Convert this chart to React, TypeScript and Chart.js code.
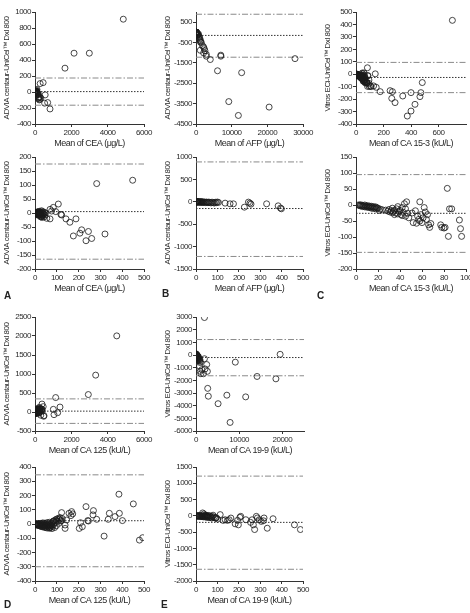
import React, { useEffect, useRef } from 'react';
import { Chart, registerables } from 'chart.js';
Chart.register(...registerables);

type P = [number, number];

// ---------- DATA ----------
const ceaPoints: P[] = [
  [4860, 910], [2150, 485], [2990, 485], [1650, 298], [826, -212], [697, -132], [530, -140], [560, -36],
  [283, 105], [448, 117], [107, 32], [84, 20], [69, 13], [76, 7], [95, 5], [119, -5], [122, -7], [142, -21],
  [160, -33], [188, -21], [176, -82], [206, -72], [214, -60], [245, -66], [234, -99], [260, -91], [321, -75],
  [54, -19], [69, -21], [31, -12],
  [1, -1], [2, 0], [3, -1], [4, 1], [5, -2], [5, 2], [6, 0], [7, -3], [8, 2], [8, -5], [9, -1], [10, -4], [10, 3],
  [11, 1], [12, -2], [12, 4], [13, 3], [14, -5], [15, 0], [15, -8], [16, -3], [17, 2], [18, -6], [19, -1], [20, -4],
  [20, 6], [21, 4], [22, -8], [23, -2], [24, 1], [25, -10], [26, -5], [26, -14], [27, 3], [28, -3], [29, -12],
  [30, 8], [32, -6], [33, -16], [34, -1], [35, 5], [36, -9], [38, 2], [40, -4], [42, -14], [44, 2], [45, -7], [48, 0],
];
const ceaLoA = [175, 5, -165]; // upper, mean, lower

const afpPoints: P[] = [
  [1, 0], [2, -2], [3, 3], [4, -1], [5, -4], [6, 1], [7, -3], [8, 2], [9, -6], [10, 0], [12, -2], [14, -8], [16, 1],
  [18, -5], [20, -10], [22, 2], [24, -3], [26, -12], [28, -1], [30, -6], [33, -15], [36, -2], [40, -9], [44, -18],
  [48, -4], [52, -12], [56, -20], [60, -6], [65, -15], [70, -25], [75, -8], [80, -18], [85, -28], [90, -10], [95, -20],
  [100, -5], [105, -15], [136, -30], [159, -45], [175, -45], [245, -7], [257, -52], [252, -30], [330, -45], [384, -90],
  [399, -156], [395, -140], [226, -120],
  [600, -120], [700, -80], [800, -200], [900, -250], [1000, -360], [1100, -300], [1200, -474], [1300, -420],
  [1500, -500], [1800, -650], [2135, -718], [2320, -800], [1200, -880], [2135, -1010], [2500, -900], [2880, -1075],
  [2880, -1170], [4000, -1334], [6960, -1120], [6960, -1170], [6035, -1886], [12800, -1980], [9190, -3400],
  [11880, -4080], [20500, -3670], [27760, -1290],
];
const afpLoA = [890, -150, -1220];

const ca153Points: P[] = [
  [2, 0], [3, -1], [4, 1], [4, -3], [5, -2], [6, -1], [6, -5], [7, -3], [8, 0], [8, -6], [9, -4], [10, -2], [10, -7],
  [11, -5], [12, -3], [12, -8], [13, -6], [14, -4], [14, -10], [15, -7], [16, -5], [16, -11], [17, -8], [18, -6],
  [18, -12], [19, -9], [20, -10], [21, -17], [22, -13], [24, -15],
  [27, -16], [29, -19], [30, -14], [31, -22], [32, -18], [33, -24], [33, -10], [34, -20], [35, -16], [35, -30],
  [36, -25], [37, -12], [38, -28], [38, -5], [39, -20], [40, -17], [41, -30], [42, -8], [42, -33], [43, -23], [44, 4],
  [45, -35], [45, -12], [46, 10], [47, -26], [48, -40],
  [51, -25], [52, -55], [54, -18], [55, -57], [56, -35], [57, -45], [58, 10], [58, -50], [59, -30], [60, -55],
  [61, -40], [62, -8], [63, -22], [64, -45], [65, -30], [66, -62], [67, -70], [68, -58],
  [77, -62], [78, -70], [80, -72], [81, -70], [83, 52], [84, -98], [85, -12], [87, -12], [94, -47], [95, -74], [96, -98],
  [105, -95], [110, -100], [140, 3], [128, -94], [147, -105], [176, -140], [248, -132], [265, -140], [260, -194],
  [284, -228], [340, -175], [400, -148], [373, -336], [400, -296], [429, -242], [465, -180], [472, -148], [482, -67],
  [701, 433],
];
const ca153LoA = [95, -26, -148];

const ca125Points: P[] = [
  [4500, 2003], [3340, 970], [2935, 459], [1138, 380], [1376, 130], [1010, 70], [1248, -18], [1046, -70],
  [385, 209], [451, 141], [341, 75], [387, 75], [367, 52], [401, 24], [336, 33], [317, -85], [479, -113], [494, -96],
  [268, 94], [266, 64], [283, 33], [242, 24], [234, 122], [245, 21], [203, -31], [217, -19], [209, 9],
  [122, 80], [168, 87], [173, 71], [165, 59], [156, 75], [145, 28], [138, -7], [138, -31], [122, 24], [112, 33],
  [99, 24], [84, 21], [76, -7], [69, -26],
  [2, -2], [4, 0], [5, -5], [6, 2], [8, -3], [10, -8], [12, 1], [14, -4], [15, -10], [16, 3], [18, -6], [20, -12],
  [22, 0], [24, -8], [25, -15], [26, 4], [28, -10], [30, -18], [32, 2], [34, -6], [35, -20], [36, 8], [38, -12],
  [40, -2], [42, -22], [44, 5], [45, -14], [46, -8], [48, -25], [50, 2], [52, -16], [54, -6], [55, -28], [56, 10],
  [58, -12], [60, -20], [62, 0], [64, -8], [65, -30], [66, 12], [68, -15], [70, -4], [72, -22], [74, 6], [76, -10],
  [78, -32], [80, -18], [82, 15], [85, -5], [88, 22], [90, -25], [92, 10], [95, 30], [98, -12], [100, 35], [105, 18],
  [108, 40], [110, 5], [115, 45], [118, 22], [125, 38],
];
const ca125LoA = [345, 23, -300];

const ca199Points: P[] = [
  [1955, 2957], [1955, -296], [2480, -753], [2630, -1290], [2105, -1100], [1353, -1156], [977, -1290], [827, -887],
  [1128, -1478], [1729, -1478], [977, -510], [2707, -2634], [2857, -3253], [5113, -3844], [7143, -3172],
  [7895, -5323], [9098, -565], [11500, -3306], [14135, -1694], [18496, -1882], [19474, 54],
  [600, -150], [700, -300], [800, -420], [900, -350], [1000, -600],
  [1, 0], [3, -5], [5, 2], [7, -8], [9, 0], [11, -12], [13, 5], [15, -3], [17, -15], [19, 8], [21, -6], [23, -20],
  [25, 3], [27, -10], [29, -25], [31, 90], [33, -5], [35, -30], [37, 60], [39, 15], [41, -12], [43, -35], [45, 20],
  [47, -8], [49, -40], [51, 5], [53, -18], [55, -45], [57, 12], [59, -25], [62, -50], [65, 0], [68, -30], [72, -60],
  [74, -67], [76, -15], [80, 20], [85, -40], [90, -70], [93, -67], [95, -55], [101, -98], [113, 38], [127, -140],
  [136, -119], [147, -140], [155, -119], [163, -67], [183, -245], [194, -140], [198, -276], [205, -46], [209, -15],
  [233, -119], [255, -200], [262, -120], [268, -275], [274, -420], [282, -15], [287, -65], [295, -120], [305, -170],
  [315, -150], [318, -65], [333, -380], [360, -88], [460, -275], [488, -420],
];
const ca199LoA = [1220, -200, -1640];

// axis ranges and tick labels
const fullCeaX = [0, 2000, 4000, 6000];
const fullCeaY = [-400, -200, 0, 200, 400, 600, 800, 1000];
const fullAfpX = [0, 10000, 20000, 30000];
const fullAfpY = [-4500, -3500, -2500, -1500, -500, 500];
const fullCa153X = [0, 200, 400, 600];
const fullCa153Y = [-400, -300, -200, -100, 0, 100, 200, 300, 400, 500];
const zoomCeaX = [0, 100, 200, 300, 400, 500];
const zoomCeaY = [-200, -150, -100, -50, 0, 50, 100, 150, 200];
const zoomAfpX = [0, 100, 200, 300, 400, 500];
const zoomAfpY = [-1500, -1000, -500, 0, 500, 1000];
const zoomCa153X = [0, 20, 40, 60, 80, 100];
const zoomCa153Y = [-200, -150, -100, -50, 0, 50, 100, 150];
const fullCa125X = [0, 2000, 4000, 6000];
const fullCa125Y = [-500, 0, 500, 1000, 1500, 2000, 2500];
const fullCa199X = [0, 10000, 20000];
const fullCa199Y = [-6000, -5000, -4000, -3000, -2000, -1000, 0, 1000, 2000, 3000];
const zoomCa125X = [0, 100, 200, 300, 400, 500];
const zoomCa125Y = [-400, -300, -200, -100, 0, 100, 200, 300, 400];
const zoomCa199X = [0, 100, 200, 300, 400, 500];
const zoomCa199Y = [-2000, -1500, -1000, -500, 0, 500, 1000, 1500];

const ADVIA = 'ADVIA centaur-UniCel\u2122 DxI 800';
const VITROS = 'Vitros ECi-UniCel\u2122 DxI 800';

interface Spec {
  pts: P[]; loa: number[]; xMax: number; yMin: number; yMax: number; xTicks: number[]; yTicks: number[];
  xTitle: string; yTitle: string; axL: number; axT: number; w: number; h: number;
}

const panels: Spec[] = [
  { pts: ceaPoints, loa: ceaLoA, xMax: 6000, yMin: -400, yMax: 1000, xTicks: fullCeaX, yTicks: fullCeaY, xTitle: 'Mean of CEA (\u03bcg/L)', yTitle: ADVIA, axL: 35, axT: 12, w: 109, h: 112 },
  { pts: afpPoints, loa: afpLoA, xMax: 30000, yMin: -4500, yMax: 1000, xTicks: fullAfpX, yTicks: fullAfpY, xTitle: 'Mean of AFP (\u03bcg/L)', yTitle: ADVIA, axL: 196, axT: 12, w: 107, h: 112 },
  { pts: ca153Points, loa: ca153LoA, xMax: 800, yMin: -400, yMax: 500, xTicks: fullCa153X, yTicks: fullCa153Y, xTitle: 'Mean of CA 15-3 (kU/L)', yTitle: VITROS, axL: 356, axT: 12, w: 110, h: 112 },
  { pts: ceaPoints, loa: ceaLoA, xMax: 500, yMin: -200, yMax: 200, xTicks: zoomCeaX, yTicks: zoomCeaY, xTitle: 'Mean of CEA (\u03bcg/L)', yTitle: ADVIA, axL: 35, axT: 157, w: 109, h: 112 },
  { pts: afpPoints, loa: afpLoA, xMax: 500, yMin: -1500, yMax: 1000, xTicks: zoomAfpX, yTicks: zoomAfpY, xTitle: 'Mean of AFP (\u03bcg/L)', yTitle: ADVIA, axL: 196, axT: 157, w: 107, h: 112 },
  { pts: ca153Points, loa: ca153LoA, xMax: 100, yMin: -200, yMax: 150, xTicks: zoomCa153X, yTicks: zoomCa153Y, xTitle: 'Mean of CA 15-3 (kU/L)', yTitle: VITROS, axL: 356, axT: 157, w: 110, h: 112 },
  { pts: ca125Points, loa: ca125LoA, xMax: 6000, yMin: -500, yMax: 2500, xTicks: fullCa125X, yTicks: fullCa125Y, xTitle: 'Mean of CA 125 (kU/L)', yTitle: ADVIA, axL: 35, axT: 317, w: 109, h: 114 },
  { pts: ca199Points, loa: ca199LoA, xMax: 25000, yMin: -6000, yMax: 3000, xTicks: fullCa199X, yTicks: fullCa199Y, xTitle: 'Mean of CA 19-9 (kU/L)', yTitle: VITROS, axL: 196, axT: 317, w: 108, h: 114 },
  { pts: ca125Points, loa: ca125LoA, xMax: 500, yMin: -400, yMax: 400, xTicks: zoomCa125X, yTicks: zoomCa125Y, xTitle: 'Mean of CA 125 (kU/L)', yTitle: ADVIA, axL: 35, axT: 467, w: 109, h: 114 },
  { pts: ca199Points, loa: ca199LoA, xMax: 500, yMin: -2000, yMax: 1500, xTicks: zoomCa199X, yTicks: zoomCa199Y, xTitle: 'Mean of CA 19-9 (kU/L)', yTitle: VITROS, axL: 196, axT: 467, w: 107, h: 114 },
];

const letters = [
  { t: 'A', x: 4, y: 290 }, { t: 'B', x: 162, y: 288 }, { t: 'C', x: 317, y: 290 },
  { t: 'D', x: 4, y: 599 }, { t: 'E', x: 161, y: 599 },
];

const FONT = "'Liberation Sans', Arial, sans-serif";
const TXT = '#2a2a2a';
const YW = 35, PT = 8, XH = 26, PR = 16;

const narrowText = {
  id: 'narrowText',
  beforeDraw: (c: any) => { c.ctx.letterSpacing = '-0.5px'; },
};

function Panel({ s }: { s: Spec }) {
  const ref = useRef<HTMLCanvasElement>(null);
  const W = YW + s.w + PR;
  const H = PT + s.h + XH;
  useEffect(() => {
    const line = (v: number, color: string, dash: number[]) => ({
      data: [{ x: 0, y: v }, { x: s.xMax, y: v }],
      showLine: true, pointRadius: 0, borderColor: color, borderWidth: 1, borderDash: dash, fill: false, order: 1,
    });
    const tickFont = { family: FONT, size: 8 };
    const chart = new Chart(ref.current as HTMLCanvasElement, {
      type: 'scatter',
      data: {
        datasets: [
          {
            data: s.pts.map(([x, y]) => ({ x, y })),
            pointRadius: 3, pointBorderWidth: 0.8, pointBorderColor: '#1a1a1a',
            pointBackgroundColor: 'rgba(0,0,0,0)', pointHoverRadius: 3, order: 0,
          } as any,
          line(s.loa[0], '#8a8a8a', [6, 2, 1.5, 2]) as any,
          line(s.loa[1], '#333', [1.5, 1.5]) as any,
          line(s.loa[2], '#8a8a8a', [6, 2, 1.5, 2]) as any,
        ],
      },
      plugins: [narrowText],
      options: {
        animation: false, responsive: false, devicePixelRatio: 1, events: [],
        plugins: { legend: { display: false }, tooltip: { enabled: false } },
        layout: { padding: { left: 0, top: PT, right: PR, bottom: 0 } },
        scales: {
          x: {
            type: 'linear', min: 0, max: s.xMax,
            afterBuildTicks: (sc: any) => { sc.ticks = s.xTicks.map((v) => ({ value: v })); },
            afterFit: (sc: any) => { sc.height = XH; },
            grid: { display: true, drawOnChartArea: false, drawTicks: true, tickLength: 3, color: '#333' },
            border: { display: true, color: '#333', width: 1 },
            ticks: { font: tickFont, color: TXT, padding: 1, maxRotation: 0, autoSkip: false, callback: (v: any) => String(v) },
            title: { display: true, text: s.xTitle, font: { family: FONT, size: 9 }, color: TXT, padding: { top: 0, bottom: 1 } },
          },
          y: {
            type: 'linear', min: s.yMin, max: s.yMax,
            afterBuildTicks: (sc: any) => { sc.ticks = s.yTicks.map((v) => ({ value: v })); },
            afterFit: (sc: any) => { sc.width = YW; },
            grid: { display: true, drawOnChartArea: false, drawTicks: true, tickLength: 3, color: '#333' },
            border: { display: true, color: '#333', width: 1 },
            ticks: { font: tickFont, color: TXT, padding: 1, autoSkip: false, callback: (v: any) => String(v) },
            title: { display: true, text: s.yTitle, font: { family: FONT, size: 8 }, color: TXT, padding: { top: 2, bottom: 0 } },
          },
        },
      } as any,
    });
    return () => chart.destroy();
  }, []);
  return (
    <canvas
      ref={ref}
      width={W}
      height={H}
      style={{ position: 'absolute', left: s.axL - YW, top: s.axT - PT, width: W, height: H }}
    />
  );
}

export default function App() {
  return (
    <div style={{ position: 'absolute', left: 0, top: 0, width: 470, height: 613, overflow: 'hidden', background: '#fff' }}>
      {panels.map((s, i) => <Panel key={i} s={s} />)}
      {letters.map((l) => (
        <div key={l.t} style={{ position: 'absolute', left: l.x, top: l.y, fontFamily: "'Liberation Sans', Arial, sans-serif", fontWeight: 'bold', fontSize: 10, color: '#222', lineHeight: '12px' }}>{l.t}</div>
      ))}
    </div>
  );
}
